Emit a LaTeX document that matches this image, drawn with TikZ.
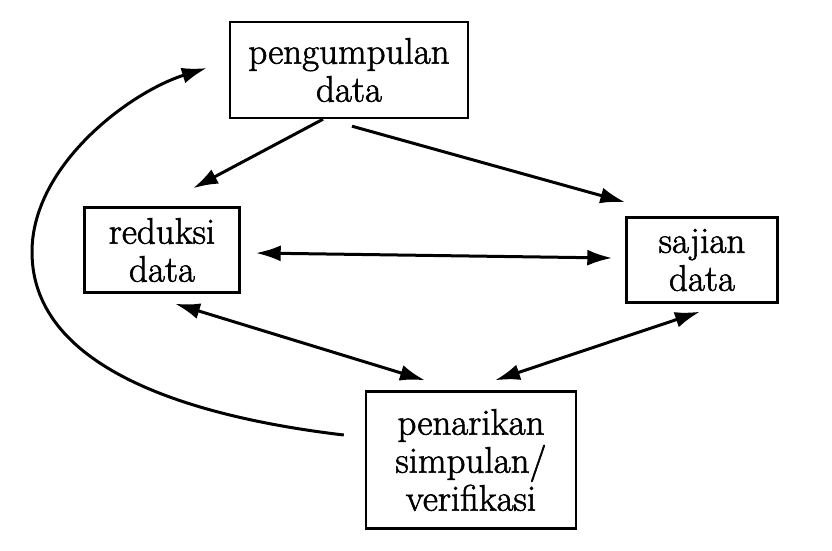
\documentclass[tikz,border=0pt]{standalone}
\usepackage{fontspec}
\usepackage{tikz}
\usetikzlibrary{arrows.meta,positioning}
\newfontfamily\boxfont{Latin Modern Roman}[BoldFont={Latin Modern Roman},BoldFeatures={FakeBold=1.6}]
\tikzstyle{stage}=[draw, line width=2.4pt, fill=white, align=center, inner sep=0pt]

\begin{document}
\begin{tikzpicture}[x=1pt,y=-1pt,>={Latex[length=25pt,width=16pt]},font=\boxfont\bfseries\fontsize{37}{38}\selectfont]
        \fill[white] (0,0) rectangle (832,550);
        \useasboundingbox (0,0) rectangle (832,550);
        \node [stage,minimum width=238pt,minimum height=96pt] (peng) at (349,70) {pengumpulan\\data};
        \node [stage,minimum width=155pt,minimum height=85pt] (red) at (162,250) {reduksi\\data};
        \node [stage,minimum width=151pt,minimum height=85pt] (saj) at (702,260) {sajian\\data};
        \node [stage,minimum width=210pt,minimum height=137pt] (pen) at (471,460) {penarikan\\simpulan/\\verifikasi};
        \path[->,line width=3pt]
        ([xshift=-26pt]peng.south) edge ([xshift=31pt,yshift=18pt]red.north)
        ([xshift=3pt,yshift=-7pt]peng.south) edge ([yshift=14pt]saj.north west);
        \path[<->,line width=3pt]
        ([xshift=15pt,yshift=-3pt]red.east) edge ([xshift=-13pt,yshift=2pt]saj.west)
        ([xshift=13pt,yshift=-10pt]red.south) edge ([xshift=-46pt,yshift=10pt]pen.north)
        ([xshift=-2pt,yshift=-8pt]saj.south) edge ([xshift=24pt,yshift=10pt]pen.north);
        % loop back from conclusion to data collection
        \draw[->,line width=3pt] ([xshift=-21pt,yshift=25pt]pen.west) .. controls (200,418) and (32,372) .. (32,252)
          .. controls (32,165) and (130,92) .. ([xshift=-22pt,yshift=2pt]peng.west);
    \end{tikzpicture}
\end{document}
